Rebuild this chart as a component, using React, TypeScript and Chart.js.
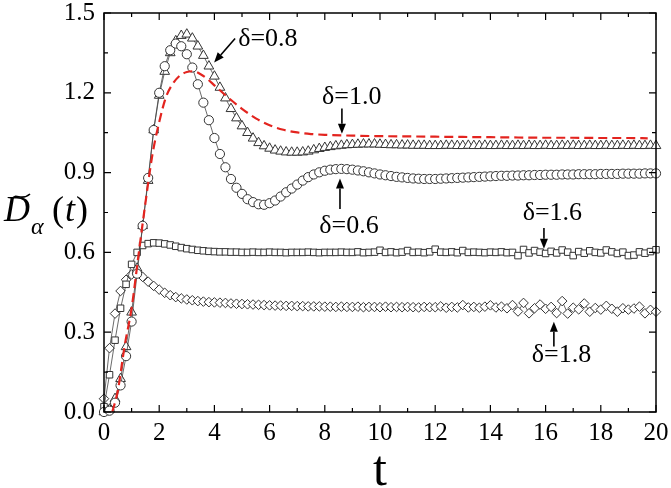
import { useEffect, useRef } from "react";
import { Chart, registerables } from "chart.js";

Chart.register(...registerables);

// sampling times for the marker series
const T = [
  0, 0.2, 0.4, 0.6, 0.8, 1, 1.2, 1.4, 1.6, 1.8,
  2, 2.2, 2.4, 2.6, 2.8, 3, 3.2, 3.4, 3.6, 3.8,
  4, 4.2, 4.4, 4.6, 4.8, 5, 5.2, 5.4, 5.6, 5.8,
  6, 6.2, 6.4, 6.6, 6.8, 7, 7.2, 7.4, 7.6, 7.8,
  8, 8.2, 8.4, 8.6, 8.8, 9, 9.2, 9.4, 9.6, 9.8,
  10, 10.2, 10.4, 10.6, 10.8, 11, 11.2, 11.4, 11.6, 11.8,
  12, 12.2, 12.4, 12.6, 12.8, 13, 13.2, 13.4, 13.6, 13.8,
  14, 14.2, 14.4, 14.6, 14.8, 15, 15.2, 15.4, 15.6, 15.8,
  16, 16.2, 16.4, 16.6, 16.8, 17, 17.2, 17.4, 17.6, 17.8,
  18, 18.2, 18.4, 18.6, 18.8, 19, 19.2, 19.4, 19.6, 19.8,
  20,
];

// delta = 0.6 (circles)
const D06 = [
  0.0, 0.005, 0.035, 0.1, 0.21, 0.34, 0.52, 0.7, 0.88, 1.06,
  1.2, 1.3, 1.36, 1.385, 1.375, 1.345, 1.295, 1.232, 1.163, 1.097,
  1.03, 0.97, 0.92, 0.876, 0.843, 0.82, 0.8, 0.789, 0.781, 0.779,
  0.785, 0.795, 0.81, 0.826, 0.84, 0.855, 0.87, 0.883, 0.893, 0.901,
  0.907, 0.911, 0.913, 0.914, 0.913, 0.911, 0.908, 0.905, 0.901, 0.897,
  0.893, 0.89, 0.887, 0.884, 0.882, 0.88, 0.878, 0.877, 0.876, 0.876,
  0.876, 0.877, 0.878, 0.879, 0.88, 0.881, 0.882, 0.883, 0.884, 0.885,
  0.886, 0.887, 0.888, 0.888, 0.889, 0.889, 0.89, 0.89, 0.891, 0.891,
  0.892, 0.892, 0.892, 0.893, 0.893, 0.893, 0.894, 0.894, 0.894, 0.894,
  0.895, 0.895, 0.895, 0.895, 0.896, 0.896, 0.896, 0.896, 0.897, 0.897,
  0.897,
];

// delta = 0.8 (triangles)
const D08 = [
  0.0, 0.01, 0.05, 0.125, 0.245, 0.375, 0.54, 0.7, 0.87, 1.06,
  1.19, 1.28, 1.35, 1.395, 1.415, 1.42, 1.405, 1.375, 1.34, 1.3,
  1.262, 1.22, 1.18, 1.14, 1.105, 1.075, 1.05, 1.029, 1.012, 1.0,
  0.991, 0.984, 0.98, 0.977, 0.976, 0.976, 0.977, 0.98, 0.985, 0.99,
  0.994, 0.997, 1.0, 1.002, 1.004, 1.005, 1.006, 1.007, 1.007, 1.007,
  1.006, 1.005, 1.004, 1.004, 1.003, 1.003, 1.002, 1.002, 1.002, 1.001,
  1.001, 1.001, 1.002, 1.002, 1.001, 1.001, 1.002, 1.001, 1.001, 1.002,
  1.001, 1.001, 1.002, 1.001, 1.001, 1.002, 1.001, 1.002, 1.001, 1.001,
  1.002, 1.001, 1.001, 1.002, 1.001, 1.002, 1.001, 1.001, 1.002, 1.001,
  1.001, 1.002, 1.001, 1.001, 1.002, 1.001, 1.002, 1.001, 1.001, 1.002,
  1.001,
];

// delta = 1.0 (red dashed line)
const D10_T = [
  0.3, 0.5, 0.75, 1, 1.25, 1.5, 1.75, 2, 2.25, 2.5, 2.75, 3, 3.25, 3.5,
  3.75, 4, 4.5, 5, 5.5, 6, 6.5, 7, 7.5, 8, 9, 10, 11, 12, 13, 14, 15, 16,
  17, 18, 19, 19.7,
];
const D10 = [
  0.0, 0.08, 0.25, 0.39, 0.59, 0.785, 0.965, 1.09, 1.185, 1.235, 1.265,
  1.278, 1.281, 1.27, 1.252, 1.228, 1.182, 1.14, 1.104, 1.078, 1.061,
  1.051, 1.045, 1.042, 1.039, 1.037, 1.036, 1.035, 1.034, 1.033, 1.032,
  1.031, 1.031, 1.03, 1.03, 1.029,
];

// delta = 1.6 (squares)
const D16 = [
  0.02, 0.14, 0.27, 0.39, 0.48, 0.555, 0.6, 0.626, 0.633, 0.636,
  0.635, 0.632, 0.628, 0.623, 0.618, 0.614, 0.611, 0.608, 0.606, 0.604,
  0.603, 0.602, 0.602, 0.601, 0.601, 0.6, 0.6, 0.601, 0.6, 0.6,
  0.601, 0.6, 0.6, 0.599, 0.6, 0.6, 0.6, 0.601, 0.6, 0.599,
  0.6, 0.6, 0.6, 0.601, 0.6, 0.6, 0.602, 0.599, 0.6, 0.601,
  0.608, 0.6, 0.602, 0.599, 0.601, 0.607, 0.6, 0.601, 0.599, 0.602,
  0.612, 0.601, 0.6, 0.602, 0.599, 0.607, 0.6, 0.601, 0.6, 0.599,
  0.601, 0.6, 0.602, 0.599, 0.6, 0.588, 0.611, 0.598, 0.607, 0.601,
  0.596, 0.604, 0.598, 0.609, 0.601, 0.588, 0.603, 0.597, 0.606, 0.6,
  0.598, 0.609, 0.602, 0.596, 0.601, 0.588, 0.59, 0.602, 0.597, 0.603,
  0.61,
];

// delta = 1.8 (diamonds)
const D18 = [
  0.05, 0.24, 0.37, 0.455, 0.497, 0.517, 0.522, 0.508, 0.49, 0.474,
  0.46, 0.448, 0.439, 0.432, 0.427, 0.423, 0.42, 0.417, 0.415, 0.413,
  0.412, 0.411, 0.41, 0.408, 0.407, 0.406, 0.405, 0.404, 0.403, 0.402,
  0.401, 0.4, 0.4, 0.399, 0.399, 0.398, 0.398, 0.397, 0.397, 0.397,
  0.396, 0.396, 0.395, 0.396, 0.395, 0.395, 0.396, 0.394, 0.395, 0.395,
  0.394, 0.396, 0.394, 0.395, 0.394, 0.395, 0.394, 0.393, 0.395, 0.394,
  0.394, 0.397, 0.392, 0.395, 0.393, 0.402, 0.393, 0.395, 0.392, 0.396,
  0.401, 0.393, 0.396, 0.39, 0.402, 0.378, 0.41, 0.371, 0.39, 0.404,
  0.388, 0.395, 0.372, 0.417, 0.37, 0.392, 0.386, 0.408, 0.377, 0.391,
  0.385, 0.399, 0.388, 0.377, 0.39, 0.385, 0.389, 0.396, 0.371, 0.384,
  0.377,
];

const X_MAJOR = [0, 2, 4, 6, 8, 10, 12, 14, 16, 18, 20];
const X_MINOR = [1, 3, 5, 7, 9, 11, 13, 15, 17, 19];
const Y_MAJOR = [0, 0.3, 0.6, 0.9, 1.2, 1.5];
const Y_MINOR = [0.15, 0.45, 0.75, 1.05, 1.35];

// curve labels with their arrows, in data units
const NOTES = [
  { text: "δ=0.8", t: 4.86, v: 1.4, from: [4.75, 1.404], to: [3.99, 1.314] },
  { text: "δ=1.0", t: 7.9, v: 1.183, from: [8.62, 1.141], to: [8.62, 1.046] },
  { text: "δ=0.6", t: 7.8, v: 0.699, from: [8.55, 0.763], to: [8.55, 0.878] },
  { text: "δ=1.6", t: 15.17, v: 0.748, from: [15.94, 0.692], to: [15.94, 0.614] },
  { text: "δ=1.8", t: 15.5, v: 0.212, from: [16.3, 0.246], to: [16.3, 0.339] },
];

const SERIF = '"Liberation Serif"';

const arrow = (ctx: CanvasRenderingContext2D, x1: number, y1: number, x2: number, y2: number) => {
  const a = Math.atan2(y2 - y1, x2 - x1);
  const len = 10;
  const half = 4;
  const bx = x2 - len * Math.cos(a);
  const by = y2 - len * Math.sin(a);
  ctx.beginPath();
  ctx.moveTo(x1, y1);
  ctx.lineTo(bx, by);
  ctx.stroke();
  ctx.beginPath();
  ctx.moveTo(x2, y2);
  ctx.lineTo(bx + half * Math.sin(a), by - half * Math.cos(a));
  ctx.lineTo(bx - half * Math.sin(a), by + half * Math.cos(a));
  ctx.closePath();
  ctx.fill();
};

// frame, inward ticks, tick labels, titles and curve notes; all text is drawn here
const decor = {
  id: "decor",
  afterDraw(chart: any) {
    const { ctx, chartArea: a, scales } = chart;
    const xs = scales.x;
    const ys = scales.y;
    ctx.save();
    ctx.strokeStyle = "#000";
    ctx.fillStyle = "#000";
    ctx.lineWidth = 1.5;
    ctx.strokeRect(a.left, a.top, a.right - a.left, a.bottom - a.top);

    const xTick = (v: number, len: number) => {
      const p = xs.getPixelForValue(v);
      ctx.beginPath();
      ctx.moveTo(p, a.bottom);
      ctx.lineTo(p, a.bottom - len);
      ctx.moveTo(p, a.top);
      ctx.lineTo(p, a.top + len);
      ctx.stroke();
    };
    const yTick = (v: number, len: number) => {
      const p = ys.getPixelForValue(v);
      ctx.beginPath();
      ctx.moveTo(a.left, p);
      ctx.lineTo(a.left + len, p);
      ctx.moveTo(a.right, p);
      ctx.lineTo(a.right - len, p);
      ctx.stroke();
    };
    ctx.lineWidth = 1.2;
    X_MAJOR.forEach((v) => xTick(v, 7));
    X_MINOR.forEach((v) => xTick(v, 4));
    Y_MAJOR.forEach((v) => yTick(v, 7));
    Y_MINOR.forEach((v) => yTick(v, 4));

    // tick labels from the scales' own ticks
    ctx.font = `25px ${SERIF}`;
    ctx.textBaseline = "middle";
    ctx.textAlign = "center";
    xs.ticks.forEach((tk: any) => {
      ctx.fillText(String(tk.value), xs.getPixelForValue(tk.value), a.bottom + 21);
    });
    ctx.textAlign = "right";
    ys.ticks.forEach((tk: any) => {
      ctx.fillText(Number(tk.value).toFixed(1), a.left - 9, ys.getPixelForValue(tk.value));
    });

    // curve notes
    ctx.font = `26px ${SERIF}`;
    ctx.textAlign = "left";
    ctx.lineWidth = 1.6;
    NOTES.forEach((n) => {
      ctx.fillText(n.text, xs.getPixelForValue(n.t), ys.getPixelForValue(n.v));
      arrow(
        ctx,
        xs.getPixelForValue(n.from[0]),
        ys.getPixelForValue(n.from[1]),
        xs.getPixelForValue(n.to[0]),
        ys.getPixelForValue(n.to[1])
      );
    });

    // x title
    ctx.textAlign = "center";
    ctx.textBaseline = "alphabetic";
    ctx.font = `50px ${SERIF}`;
    ctx.fillText("t", (a.left + a.right) / 2, 485);

    // y title: D~ with subscript alpha, then (t)
    ctx.textAlign = "left";
    ctx.font = `italic 36px ${SERIF}`;
    ctx.fillText("D", 4, 221);
    ctx.lineWidth = 1.6;
    ctx.beginPath();
    ctx.moveTo(12, 199);
    ctx.bezierCurveTo(16, 192, 21, 202, 30, 194);
    ctx.stroke();
    ctx.font = `italic 24px ${SERIF}`;
    ctx.fillText("α", 31, 234);
    let x = 52;
    ctx.font = `36px ${SERIF}`;
    ctx.fillText("(", x, 221);
    x += ctx.measureText("(").width;
    ctx.font = `italic 36px ${SERIF}`;
    ctx.fillText("t", x + 1, 221);
    x += ctx.measureText("t").width + 2;
    ctx.font = `36px ${SERIF}`;
    ctx.fillText(")", x, 221);
    ctx.restore();
  },
};

const markerSet = (label: string, values: number[], style: string, radius: number, order: number) => ({
  label,
  data: T.map((t, i) => ({ x: t, y: values[i] })),
  borderColor: "#444",
  borderWidth: 0.8,
  pointStyle: style,
  pointRadius: radius,
  pointBorderColor: "#333",
  pointBackgroundColor: "#fff",
  pointBorderWidth: 1,
  fill: false,
  tension: 0,
  order,
  clip: 6,
});

const App = () => {
  const canvasRef = useRef<HTMLCanvasElement | null>(null);

  useEffect(() => {
    if (!canvasRef.current) return;
    const chart = new Chart(canvasRef.current, {
      type: "line",
      data: {
        datasets: [
          {
            label: "δ=1.0",
            data: D10_T.map((t, i) => ({ x: t, y: D10[i] })),
            borderColor: "#e3241f",
            borderWidth: 2.2,
            borderDash: [9, 5],
            pointRadius: 0,
            cubicInterpolationMode: "monotone",
            fill: false,
            order: 0,
          },
          markerSet("δ=0.6", D06, "circle", 4.6, 1),
          markerSet("δ=0.8", D08, "triangle", 5.6, 2),
          markerSet("δ=1.6", D16, "rect", 4.6, 3),
          markerSet("δ=1.8", D18, "rectRot", 4.8, 4),
        ] as any,
      },
      options: {
        animation: false,
        responsive: true,
        maintainAspectRatio: false,
        layout: { padding: { top: 13, right: 15, left: 0, bottom: 0 } },
        plugins: {
          legend: { display: false },
          tooltip: { enabled: false },
        },
        scales: {
          x: {
            type: "linear",
            min: 0,
            max: 20,
            grid: { display: false, drawTicks: false },
            border: { display: false },
            ticks: { stepSize: 2, autoSkip: false, display: false },
            afterFit: (s: any) => {
              s.height = 76;
            },
          },
          y: {
            type: "linear",
            min: 0,
            max: 1.5,
            grid: { display: false, drawTicks: false },
            border: { display: false },
            ticks: { stepSize: 0.3, display: false },
            afterFit: (s: any) => {
              s.width = 104;
            },
          },
        },
      },
      plugins: [decor],
    });
    return () => chart.destroy();
  }, []);

  return (
    <div style={{ position: "fixed", left: 0, top: 0, width: 671, height: 488, background: "#fff" }}>
      <canvas ref={canvasRef}></canvas>
    </div>
  );
};

export default App;
